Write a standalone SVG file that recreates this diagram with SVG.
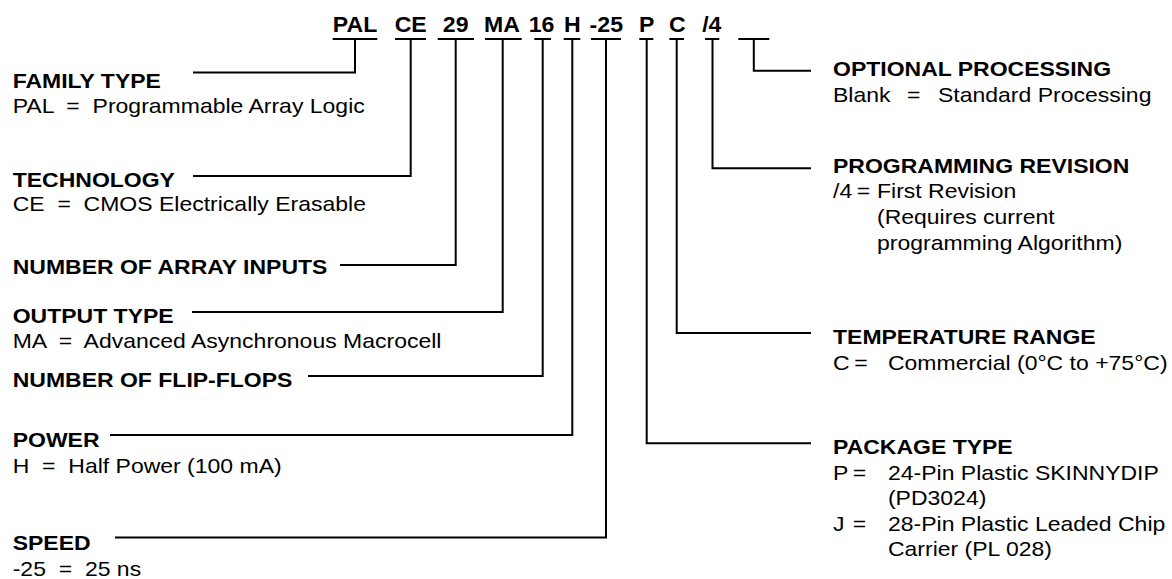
<svg xmlns="http://www.w3.org/2000/svg" width="1172" height="579" viewBox="0 0 1172 579">
<style>
text { font-family: "Liberation Sans", Arial, Helvetica, sans-serif; fill: #000; }
.code { font-size: 22px; font-weight: bold; text-anchor: middle; }
.b { font-size: 21px; font-weight: bold; }
.r { font-size: 21px; }
.ul { stroke: #000; stroke-width: 2; fill: none; }
#connectors path { stroke: #000; stroke-width: 2; fill: none; }
</style>
<rect width="1172" height="579" fill="#fff"/>

<g id="code-pal"><text class="code" transform="translate(355 31.5) scale(1.05 1)">PAL</text><line class="ul" x1="332.7" y1="39" x2="377.3" y2="39"/></g>
<g id="code-ce"><text class="code" transform="translate(410.7 31.5) scale(1.05 1)">CE</text><line class="ul" x1="395" y1="39" x2="426" y2="39"/></g>
<g id="code-29"><text class="code" transform="translate(455.7 31.5) scale(1.05 1)">29</text><line class="ul" x1="437.7" y1="39" x2="474" y2="39"/></g>
<g id="code-ma"><text class="code" transform="translate(502 31.5) scale(1.05 1)">MA</text><line class="ul" x1="485" y1="39" x2="521.7" y2="39"/></g>
<g id="code-16"><text class="code" transform="translate(541.5 31.5) scale(1.05 1)">16</text><line class="ul" x1="534.3" y1="39" x2="551" y2="39"/></g>
<g id="code-h"><text class="code" transform="translate(572.3 31.5) scale(1.05 1)">H</text><line class="ul" x1="563.7" y1="39" x2="580.3" y2="39"/></g>
<g id="code-25"><text class="code" transform="translate(606.3 31.5) scale(1.05 1)">-25</text><line class="ul" x1="591" y1="39" x2="621" y2="39"/></g>
<g id="code-p"><text class="code" transform="translate(646.7 31.5) scale(1.05 1)">P</text><line class="ul" x1="639.3" y1="39" x2="653.3" y2="39"/></g>
<g id="code-c"><text class="code" transform="translate(677.3 31.5) scale(1.05 1)">C</text><line class="ul" x1="669.3" y1="39" x2="684" y2="39"/></g>
<g id="code-4"><text class="code" transform="translate(711.8 31.5) scale(1.05 1)">/4</text><line class="ul" x1="705" y1="39" x2="719.3" y2="39"/></g>
<g id="code-blank"><line class="ul" x1="738.3" y1="39" x2="769.3" y2="39"/></g>

<g id="connectors">
<path d="M355 39 V72.5 H193"/>
<path d="M410.7 39 V176 H193"/>
<path d="M455.7 39 V265 H340"/>
<path d="M502.7 39 V312 H192"/>
<path d="M542.7 39 V376 H308"/>
<path d="M572.3 39 V435 H110"/>
<path d="M606 39 V537.5 H115"/>
<path d="M646.7 39 V443.3 H811"/>
<path d="M676.7 39 V333 H811"/>
<path d="M712.5 39 V168.3 H811"/>
<path d="M753.8 39 V70.7 H811"/>
</g>

<g id="family-type" transform="translate(12.7 0) scale(1.095 1)">
<text class="b" x="0" y="88">FAMILY TYPE</text>
<text class="r" x="0" y="113.5" xml:space="preserve">PAL  =  Programmable Array Logic</text>
</g>
<g id="technology" transform="translate(12.7 0) scale(1.095 1)">
<text class="b" x="0" y="187">TECHNOLOGY</text>
<text class="r" x="0" y="211.5" xml:space="preserve">CE  =  CMOS Electrically Erasable</text>
</g>
<g id="array-inputs" transform="translate(12.7 0) scale(1.095 1)">
<text class="b" x="0" y="274">NUMBER OF ARRAY INPUTS</text>
</g>
<g id="output-type" transform="translate(12.7 0) scale(1.095 1)">
<text class="b" x="0" y="323">OUTPUT TYPE</text>
<text class="r" x="0" y="348.5" xml:space="preserve">MA  =  Advanced Asynchronous Macrocell</text>
</g>
<g id="flip-flops" transform="translate(12.7 0) scale(1.095 1)">
<text class="b" x="0" y="387">NUMBER OF FLIP-FLOPS</text>
</g>
<g id="power" transform="translate(12.7 0) scale(1.095 1)">
<text class="b" x="0" y="447">POWER</text>
<text class="r" x="0" y="473" xml:space="preserve">H  =  Half Power (100 mA)</text>
</g>
<g id="speed" transform="translate(12.7 0) scale(1.095 1)">
<text class="b" x="0" y="550.5">SPEED</text>
<text class="r" x="0" y="576" xml:space="preserve">-25  =  25 ns</text>
</g>

<g id="optional-processing" transform="translate(833 0) scale(1.095 1)">
<text class="b" x="0" y="76.5">OPTIONAL PROCESSING</text>
<text class="r" y="102"><tspan x="0">Blank</tspan><tspan x="67.6">=</tspan><tspan x="95.9">Standard Processing</tspan></text>
</g>
<g id="programming-revision" transform="translate(833 0) scale(1.095 1)">
<text class="b" x="0" y="173">PROGRAMMING REVISION</text>
<text class="r" y="198.5"><tspan x="0">/4</tspan><tspan x="21.8">=</tspan><tspan x="40.2">First Revision</tspan></text>
<text class="r" x="40.2" y="224.5">(Requires current</text>
<text class="r" x="40.2" y="250.5">programming Algorithm)</text>
</g>
<g id="temperature-range" transform="translate(833 0) scale(1.095 1)">
<text class="b" x="0" y="344">TEMPERATURE RANGE</text>
<text class="r" y="370"><tspan x="0">C</tspan><tspan x="19.5">=</tspan><tspan x="50.2">Commercial (0°C to +75°C)</tspan></text>
</g>
<g id="package-type" transform="translate(833 0) scale(1.095 1)">
<text class="b" x="0" y="454.5">PACKAGE TYPE</text>
<text class="r" y="480.5"><tspan x="0">P</tspan><tspan x="18">=</tspan><tspan x="50.2">24-Pin Plastic SKINNYDIP</tspan></text>
<text class="r" x="50.2" y="505.5">(PD3024)</text>
<text class="r" y="531"><tspan x="0">J</tspan><tspan x="18">=</tspan><tspan x="50.2">28-Pin Plastic Leaded Chip</tspan></text>
<text class="r" x="50.2" y="556.5">Carrier (PL 028)</text>
</g>
</svg>
